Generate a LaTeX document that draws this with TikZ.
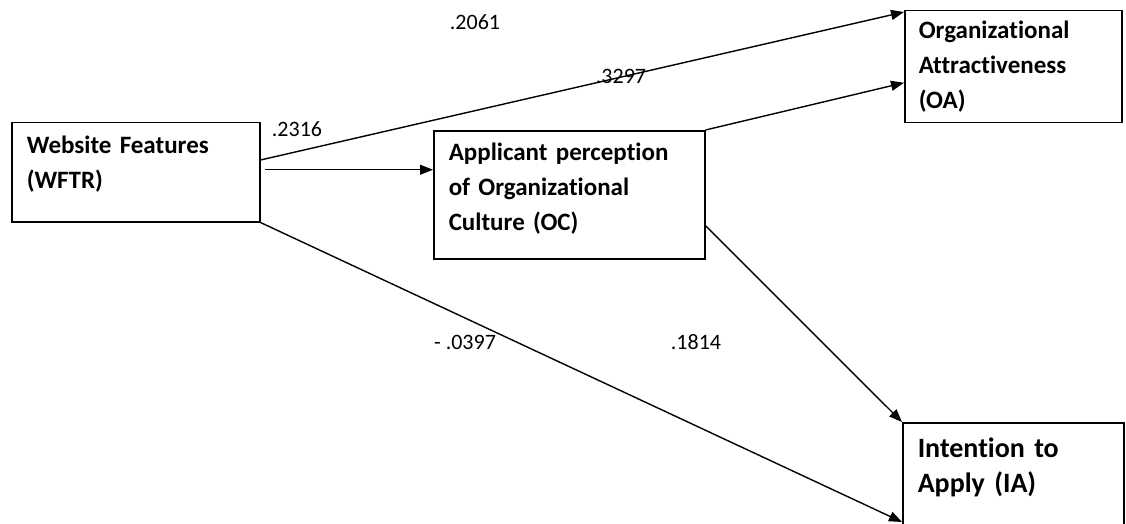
\documentclass[tikz,border=0pt]{standalone}
\usepackage{fontspec}
\setmainfont[Ligatures=NoCommon]{Carlito}
\usetikzlibrary{arrows.meta}

\tikzset{
	box/.style={draw, line width=1.5pt, anchor=north west, align=left, inner xsep=15pt, inner ysep=0pt, font=\fontsize{25}{35}\selectfont\bfseries},
	link/.style={line width=1.4pt, -{Triangle[length=13pt,width=10pt]}},
	coef/.style={font=\fontsize{22}{26}\selectfont, inner sep=0pt}
}

\begin{document}
\begin{tikzpicture}[x=1pt, y=-1pt]
			%%%%% START %%%%%
			
			\useasboundingbox (0, 0) rectangle (1126, 524);
			
			\node[box, text width=218pt, text height=31pt, text depth=68pt] (wftr) at (11, 122) {Website Features\\(WFTR)};
			\node[box, text width=241pt, text height=30pt, text depth=98pt] (oc) at (433, 130) {Applicant perception\\of Organizational\\Culture (OC)};
			\node[box, inner xsep=14pt, text width=189pt, text height=28pt, text depth=84pt] (oa) at (904, 10) {Organizational\\Attractiveness\\(OA)};
			\node[box, font=\fontsize{28}{35}\selectfont\bfseries, text width=191pt, text height=35pt, text depth=150pt] (ia) at (902, 422) {Intention to\\Apply (IA)};
			
			\draw[link] ([yshift=-38pt]wftr.north east) -- ([yshift=-2pt]oa.north west);
			\draw[link] ([xshift=4pt,yshift=2.5pt]wftr.east) -- ([yshift=25pt]oc.west);
			\draw[link] (oc.north east) -- ([yshift=-16pt]oa.west);
			\draw[link] ([yshift=-31pt]oc.east) -- (ia.north west);
			\draw[link] (wftr.south east) -- ([yshift=-100pt]ia.north west);
			
			\node[coef] (c1) at (475, 22) {.2061};
			\node[coef] (c2) at (621, 76) {.3297};
			\node[coef] (c3) at (297, 129) {.2316};
			\node[coef] (c4) at (465, 342) {- .0397};
			\node[coef] (c5) at (696, 342) {.1814};
			
			%%%%% END %%%%%
\end{tikzpicture}
\end{document}
